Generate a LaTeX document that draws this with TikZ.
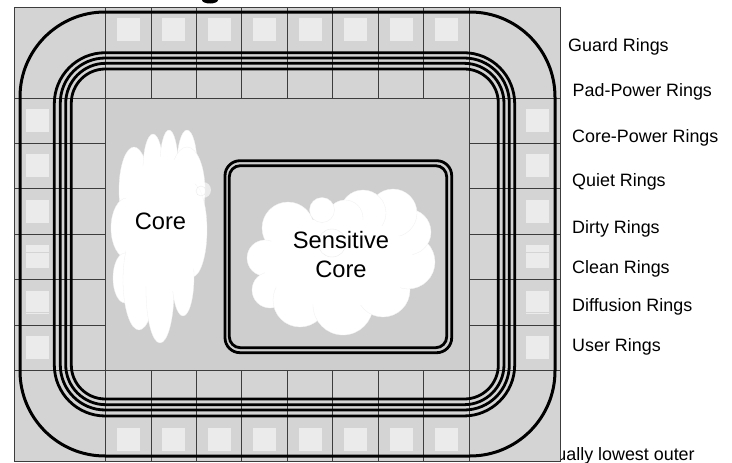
\documentclass[tikz,border=0pt]{standalone}
\usepackage{fontspec}
\setmainfont{Liberation Sans}
\definecolor{padgray}{HTML}{D4D4D4}
\definecolor{coregray}{HTML}{CECECE}
\definecolor{cellwhite}{HTML}{EBEBEB}
\definecolor{gridgray}{HTML}{3C3C3C}
\begin{document}
\begin{tikzpicture}[
    x=1pt, y=-1pt,
    cell/.style={draw=gridgray, line width=0.8pt},
    pad/.style={fill=cellwhite},
    ring/.style={draw=black, line width=2.8pt},
    puff/.style={fill=white, draw=white!94!black, line width=0.3pt},
    faint/.style={draw=white!92!black, line width=0.4pt},
    label/.style={anchor=base west, inner sep=0pt, font=\fontsize{17.9}{20}\selectfont},
    cloudtext/.style={align=center, inner sep=0pt, font=\fontsize{23.7}{29}\selectfont}
]
\useasboundingbox (0,0) rectangle (732,463);

% text cut off by the sheet
\node[label] (lowest) at (556.2,460) {ually lowest outer};
\fill (210,0) ellipse (8pt and 3.5pt);

% sheet and pad cells
\fill[padgray] (14.5,7) rectangle (560,461.5);
\fill[coregray] (105.5,98) rectangle (469,370.5);
\foreach \i in {0,...,7} {
    \pgfmathsetmacro{\cx}{105.5+45.45*\i}
    \draw[cell] (\cx,7) rectangle ++(45.45,91);
    \draw[cell] (\cx,370.5) rectangle ++(45.45,91);
    \fill[pad] (\cx+11.5,18) rectangle ++(23,23);
    \fill[pad] (\cx+11.5,427.5) rectangle ++(23,23.5);
}
\foreach \i in {0,...,5} {
    \pgfmathsetmacro{\cy}{98+45.42*\i}
    \draw[cell] (14.5,\cy) rectangle ++(91,45.42);
    \draw[cell] (469,\cy) rectangle ++(91,45.42);
    \fill[pad] (26,\cy+11) rectangle ++(23,23);
    \fill[pad] (526,\cy+11) rectangle ++(23,23);
}
\draw[cell] (14.5,7) rectangle (560,461.5);
\foreach \px in {26,526} {
    \draw[padgray, line width=0.6pt] (\px,252) -- ++(23,0);
    \draw[padgray, line width=0.6pt] (\px,312) -- ++(23,0);
}

% rings
\draw[ring, line width=3pt] (20,12) [rounded corners=85pt] rectangle (555,456);
\draw[ring] (54.3,52.7) [rounded corners=51pt] rectangle (514.7,416);
\draw[ring] (60.3,58) [rounded corners=45pt] rectangle (509.3,410);
\draw[ring] (65.7,63.3) [rounded corners=40pt] rectangle (504,404.7);
\draw[ring] (71.3,69) [rounded corners=34pt] rectangle (498.3,399);
\draw[ring] (225,160.7) [rounded corners=15pt] rectangle (451.7,352.7);
\draw[ring] (229.3,165.7) [rounded corners=11pt] rectangle (446.7,347.7);

% core cloud
\foreach \ex/\ey/\rx/\ry in {
    134/190/15/43, 153/169/10/35, 169/165/9/35, 187/165/10/35,
    187/190/18/43, 192/230/15/47, 127/228/16/30, 125/278/12/25,
    139/280/16/50, 160/290/14/53, 183/277/11/39}
    \path[puff] (\ex,\ey) ellipse (\rx pt and \ry pt);
\fill[white] (163,225) ellipse (40pt and 68pt);
\fill[white, opacity=.6] (203,190) circle (8);
\draw[faint] (201,191) circle (5);
\node[cloudtext] (core) at (160.5,221) {Core};

% sensitive core cloud
\foreach \ex/\ey/\rr in {
    288/228/26, 265/258/18, 270/290/18, 300/300/27, 343/305/30, 383/290/27,
    408/262/27, 408/232/23, 393/213/24, 363/213/23, 345/218/18}
    \path[puff] (\ex,\ey) circle (\rr);
\fill[white] (338,262) ellipse (75pt and 45pt);
\path[puff] (322,210) circle (12.5);
\draw[faint] (332,243) circle (14);
\node[cloudtext] (sensitive) at (341,255) {Sensitive\\Core};

% ring names
\node[label] (guard) at (568,51) {Guard Rings};
\node[label] (padpower) at (572.5,96) {Pad-Power Rings};
\node[label] (corepower) at (572,142.5) {Core-Power Rings};
\node[label] (quiet) at (572,186.7) {Quiet Rings};
\node[label] (dirty) at (572,233) {Dirty Rings};
\node[label] (clean) at (572,273) {Clean Rings};
\node[label] (diffusion) at (572,311.7) {Diffusion Rings};
\node[label] (user) at (572,351.7) {User Rings};
\end{tikzpicture}
\end{document}
